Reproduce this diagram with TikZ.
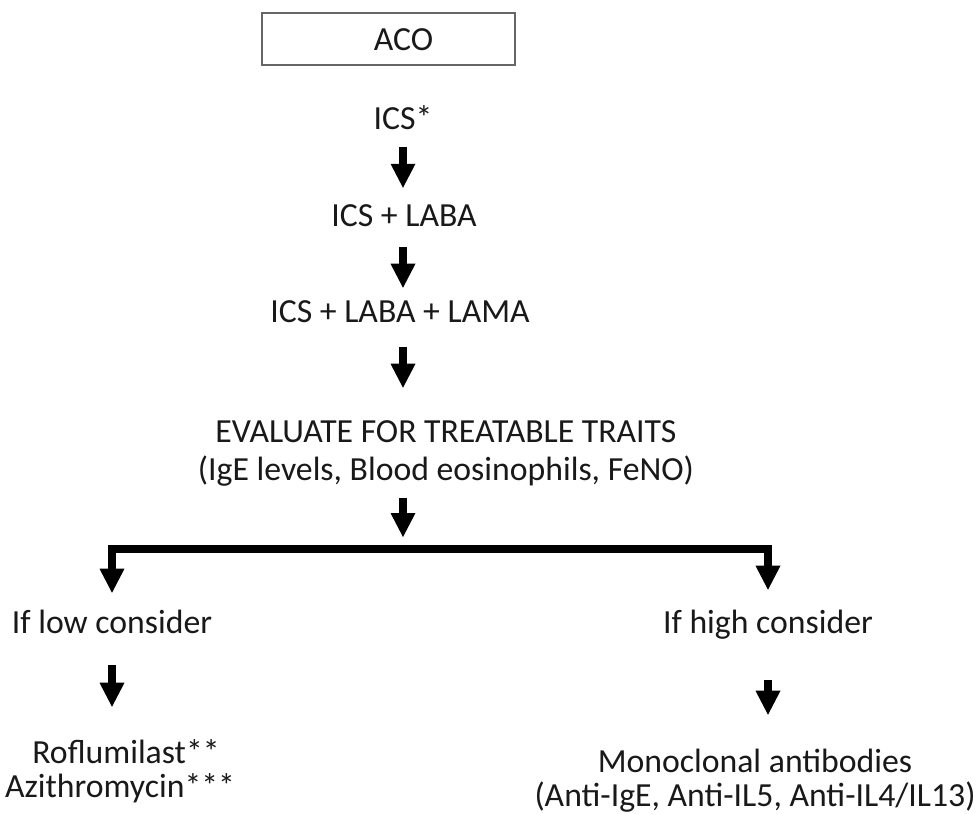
\documentclass[tikz,border=0pt]{standalone}
\usepackage{fontspec}
\setmainfont{Carlito}
\usetikzlibrary{arrows.meta}
\begin{document}
\begin{tikzpicture}[x=0.75pt,y=-0.75pt,
  txt/.style={font=\fontsize{25.3pt}{30pt}\selectfont, inner sep=0pt, anchor=base,
    text height=18pt, text depth=5pt, text=black!90},
  boxnode/.style={draw=black!60, line width=1.1pt, minimum width=190pt, minimum height=39pt, inner sep=0pt},
  arr/.style={line width=6pt, draw=black,
    -{Triangle[width=18.75pt,length=18pt,line width=0pt]}},
  arrboth/.style={line width=6pt, draw=black, line join=miter,
    {Triangle[width=18.75pt,length=18pt,line width=0pt]}-{Triangle[width=18.75pt,length=18pt,line width=0pt]}}
]
\useasboundingbox (0,0) rectangle (979,814);
\fill[white] (0,0) rectangle (979,814);

\node[boxnode] (acobox) at (388.5,39) {};
\node[txt] (aco) at (403.5,50) {ACO};

\node[txt] (ics) at (403,129) {ICS*};
\node[txt] (laba) at (404,226.7) {ICS + LABA};
\node[txt] (lama) at (400,322) {ICS + LABA + LAMA};
\node[txt] (eval) at (446,442) {EVALUATE FOR TREATABLE TRAITS};
\node[txt] (ige) at (446,480) {(IgE levels, Blood eosinophils, FeNO)};
\coordinate (split) at (403,549);
\coordinate (cR) at (768,549);
\node[txt] (low) at (112,633) {If low consider};
\node[txt] (high) at (768,633) {If high consider};
\node[txt] (rof) at (126,763) {Roflumilast**};
\node[txt] (azi) at (120,797) {Azithromycin***};
\node[txt] (mono) at (755,772) {Monoclonal antibodies};
\node[txt] (anti) at (755,806) {(Anti-IgE, Anti-IL5, Anti-IL4/IL13)};

\draw[arr, shorten <=8.5pt, shorten >=11pt] (ics.south) -- (laba.north -| ics.south);
\draw[arr, shorten <=10.2pt, shorten >=7.5pt] (laba.south -| ics.south) -- (lama.north -| ics.south);
\draw[arr, shorten <=13.7pt, shorten >=22.5pt] (lama.south -| ics.south) -- (eval.north -| ics.south);
\draw[arr, shorten <=8.5pt, shorten >=9pt] (ige.south -| split) -- (split);
\draw[arrboth, shorten <=12pt, shorten >=14.25pt] (low.north) |- (cR) -- (high.north);
\draw[arr, shorten <=19pt, shorten >=24pt] (low.south) -- (rof.north -| low.south);
\draw[arr, shorten <=30pt, shorten >=24.75pt] (high.south) -- (mono.north -| high.south);
\end{tikzpicture}
\end{document}
